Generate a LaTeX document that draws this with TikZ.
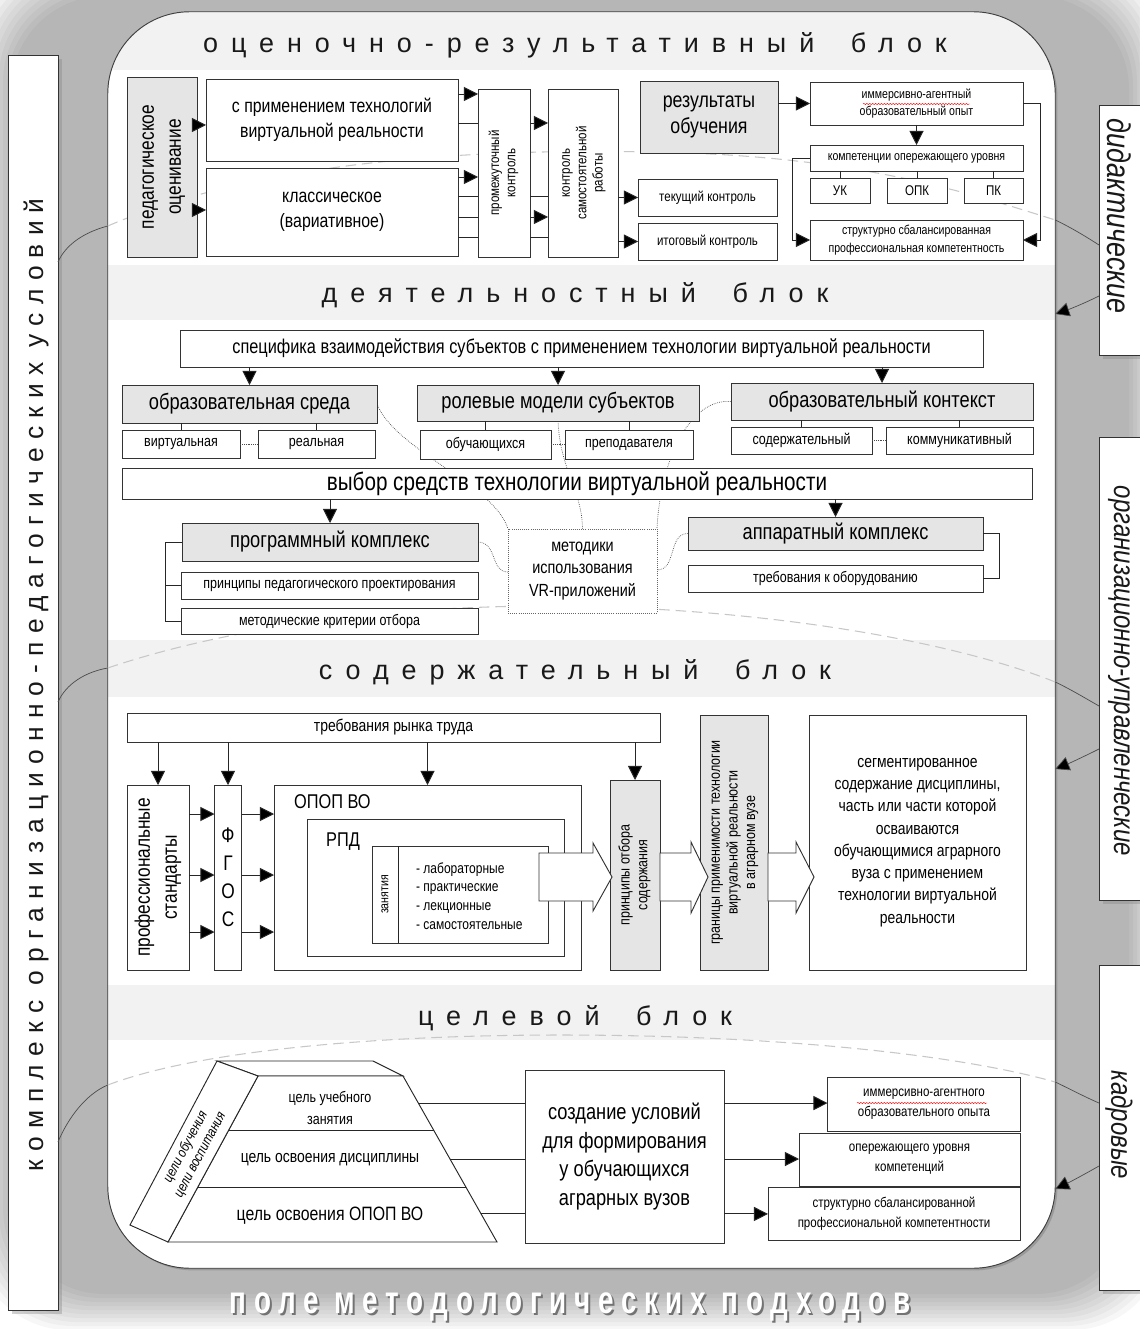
\documentclass[tikz,border=0pt]{standalone}
\usepackage{fontspec}
\setmainfont{Liberation Sans}[FakeStretch=0.82]
\newfontfamily\blockfont{Liberation Sans}[LetterSpace=48]
\newfontfamily\sidefont{Liberation Sans}[LetterSpace=31]
\newfontfamily\slantfont{Liberation Sans}[FakeStretch=0.82]
\newfontfamily\fieldfont{Liberation Sans}[FakeStretch=0.72,LetterSpace=20]
\usetikzlibrary{arrows.meta,shadows,calc,decorations.pathmorphing}
\pgfdeclarelayer{back}
\pgfdeclarelayer{links}
\pgfsetlayers{back,links,main}
\newcommand\vtxt[1]{\rotatebox{90}{\begin{tabular}{@{}c@{}}#1\end{tabular}}}

\begin{document}
\begin{tikzpicture}[x=0.03cm,y=-0.03cm,>={Triangle[length=12pt,width=12pt,fill=black]},
  wh/.style 2 args={minimum width=#1*0.03cm,minimum height=#2*0.03cm},
  fs/.style 2 args={font=\fontsize{#1}{#2}\selectfont,align=center},
  box/.style={draw=black!80,line width=0.8pt,fill=white,inner sep=0pt,outer sep=0pt,align=center},
  gbox/.style={box,fill=black!10},
  band/.style={fill=black!5},
  blocktitle/.style={font=\blockfont\fontsize{23}{26}\selectfont,text=black!90},
  wire/.style={draw=black!85,line width=0.8pt},
  dots/.style={draw=black!70,line width=0.6pt,densely dotted},
  bow/.style={draw=black!70,line width=0.6pt},
  bowdash/.style={draw=black!22,line width=0.9pt,dash pattern=on 9pt off 5pt},
  sidebox/.style={box,drop shadow={shadow xshift=3pt,shadow yshift=-3pt,opacity=0.35}},
  hollow/.style={draw=black!80,line width=0.8pt,fill=white},
  sidelbl/.style={rotate=-90,font=\slantfont\itshape\fontsize{25}{27}\selectfont,text=black!90},
]
\useasboundingbox (0,0) rectangle (1139,1329);

% background, panel and bands
\begin{pgfonlayer}{back}
\fill[white] (0,0) rectangle (1139,1329);
\foreach \i in {0,...,9}
  \fill[black,opacity=0.03,rounded corners=80pt] (-25+4*\i,-40+4*\i) rectangle (1165-4*\i,1330-4*\i);
\node[fill=white,wh={947}{1256},rounded corners=70pt,
  drop shadow={shadow xshift=2pt,shadow yshift=-2pt,opacity=0.5}] (panel) at (581.5,640) {};
\begin{scope}
  \clip[rounded corners=70pt] (panel.north west) rectangle (panel.south east);
  \fill[band] (108,12) rectangle (1055,70);
  \fill[band] (108,265) rectangle (1055,320);
  \fill[band] (108,640) rectangle (1055,697);
  \fill[band] (108,985) rectangle (1055,1040);
\end{scope}
\draw[black!75,line width=0.8pt,rounded corners=70pt] (panel.north west) rectangle (panel.south east);
\node[sidebox,wh={50}{1255}] (leftbox) at (33,682.5) {};
\node[sidebox,wh={52}{250}] (didact) at (1125,230) {};
\node[sidebox,wh={52}{463}] (orgman) at (1125,668.5) {};
\node[sidebox,wh={52}{325}] (staff) at (1125,1127.5) {};
\end{pgfonlayer}

\node[blocktitle] (t1) at (575,45) {оценочно-результативный \hspace{0.6em}блок};
\node[blocktitle] (t2) at (575,295) {деятельностный \hspace{0.6em}блок};
\node[blocktitle] (t3) at (575,672) {содержательный \hspace{0.6em}блок};
\node[blocktitle] (t4) at (575,1018) {целевой \hspace{0.6em}блок};

\node[rotate=90,font=\sidefont\fontsize{22.5}{24}\selectfont,text=black!90] (leftlbl) at (36,685) {комплекс организационно-педагогических условий};
\node[sidelbl,font=\slantfont\itshape\fontsize{28}{30}\selectfont] (didlbl) at (1119,216) {дидактические};
\node[sidelbl] (orglbl) at (1119,671) {организационно-управленческие};
\node[sidelbl] (stafflbl) at (1119,1125) {кадровые};

% evaluation block
\node[gbox,wh={70}{180},fs={18}{23}] (pedo) at (162,167) {\vtxt{педагогическое\\оценивание}};
\node[box,wh={252}{82},fs={16.5}{21}] (vrtech) at (332,120) {с применением технологий\\виртуальной реальности};
\node[box,wh={252}{88},fs={16.5}{21}] (classic) at (332,212) {классическое\\(вариативное)};
\node[box,wh={52}{168},fs={12}{14}] (interim) at (504,173) {\vtxt{промежуточный\\контроль}};
\node[box,wh={70}{168},fs={12}{14}] (selfctl) at (583,173) {\vtxt{контроль\\самостоятельной\\работы}};
\node[box,wh={139}{37},fs={12}{14}] (current) at (707.5,197.5) {текущий контроль};
\node[box,wh={139}{37},fs={12}{14}] (final) at (707.5,241.5) {итоговый контроль};
\node[gbox,wh={138}{72},fs={18.5}{22}] (results) at (709,117) {результаты\\обучения};
\node[box,wh={213}{43},fs={11}{14}] (immers) at (916.5,103.5) {иммерсивно-агентный\\образовательный опыт};
\node[box,wh={213}{26},fs={11}{13}] (compet) at (916.5,158) {компетенции опережающего уровня};
\node[box,wh={60}{25},fs={12}{14}] (uk) at (840,190.5) {УК};
\node[box,wh={60}{25},fs={12}{14}] (opk) at (917,190.5) {ОПК};
\node[box,wh={59}{25},fs={12}{14}] (pk) at (993.5,190.5) {ПК};
\node[box,wh={213}{40},fs={11}{15}] (balanced) at (916.5,240) {структурно сбалансированная\\профессиональная компетентность};

\draw[wire,->] (pedo.east |- 0,125) -- (vrtech.west |- 0,125);
\draw[wire,->] (pedo.east |- 0,210) -- (classic.west |- 0,210);
\draw[wire,->] (vrtech.east |- 0,94) -- (interim.west |- 0,94);
\draw[wire] (vrtech.east |- 0,123) -- (interim.west |- 0,123);
\draw[wire,->] (classic.east |- 0,177) -- (interim.west |- 0,177);
\foreach \y in {196,217,237}
  \draw[wire] (classic.east |- 0,\y) -- (interim.west |- 0,\y);
\draw[wire,->] (interim.east |- 0,123) -- (selfctl.west |- 0,123);
\draw[wire] (interim.east |- 0,196) -- (selfctl.west |- 0,196);
\draw[wire,->] (interim.east |- 0,217) -- (selfctl.west |- 0,217);
\draw[wire] (interim.east |- 0,237) -- (selfctl.west |- 0,237);
\draw[wire,->] (selfctl.east |- current.west) -- (current.west);
\draw[wire,->] (selfctl.east |- final.west) -- (final.west);
\draw[wire,->] (results.east |- immers.west) -- (immers.west);
\draw[wire,->] (immers.south) -- (compet.north);
\foreach \n in {uk,opk,pk}
  \draw[wire] (\n.north |- compet.south) -- (\n.north);
\draw[wire,->] (compet.west) -- ++(-18,0) |- (balanced.west);
\draw[wire,->] (immers.east) -- ++(17,0) |- (balanced.east);
\draw[red,line width=0.4pt,decorate,decoration={snake,amplitude=0.5pt,segment length=2.5pt}] (863,104) -- (970,104);

% activity block
\node[box,wh={803}{37},fs={17}{20}] (spec) at (581.5,348.5) {специфика взаимодействия субъектов с применением технологии виртуальной реальности};
\node[gbox,wh={255}{38},fs={19}{22}] (env) at (249.5,404) {образовательная среда};
\node[gbox,wh={282}{36},fs={19}{22}] (roles) at (558,403) {ролевые модели субъектов};
\node[gbox,wh={302}{37},fs={19}{22}] (ctx) at (882,401.5) {образовательный контекст};
\node[box,wh={118}{28},fs={13}{15}] (virt) at (181,444) {виртуальная};
\node[box,wh={117}{28},fs={13}{15}] (real) at (316.5,444) {реальная};
\node[box,wh={131}{29},fs={13}{15}] (learn) at (485.5,444.5) {обучающихся};
\node[box,wh={128}{29},fs={13}{15}] (teach) at (629,444.5) {преподавателя};
\node[box,wh={141}{27},fs={13}{15}] (subst) at (801.5,440.5) {содержательный};
\node[box,wh={147}{27},fs={13}{15}] (comm) at (959.5,440.5) {коммуникативный};
\node[box,wh={910}{31},fs={21.5}{24}] (choice) at (577,483.5) {выбор средств технологии виртуальной реальности};
\node[gbox,wh={296}{38},fs={19}{22}] (soft) at (330,542) {программный комплекс};
\node[box,wh={297}{27},fs={13}{15}] (princ) at (329.5,585.5) {принципы педагогического проектирования};
\node[box,wh={297}{26},fs={13}{15}] (crit) at (329.5,621) {методические критерии отбора};
\node[gbox,wh={295}{33},fs={19}{22}] (hard) at (835.5,533.5) {аппаратный комплекс};
\node[box,wh={295}{27},fs={13}{15}] (equip) at (835.5,578.5) {требования к оборудованию};
\node[box,draw=black!60,densely dotted,wh={149}{84},fs={15}{19}] (methods) at (582.5,571) {методики\\использования\\VR-приложений};

\foreach \n in {env,roles,ctx}
  \draw[wire,->] (\n.north |- spec.south) -- (\n.north);
\draw[wire] (virt.north |- env.south) -- (virt.north);
\draw[wire] (real.north |- env.south) -- (real.north);
\draw[wire] (learn.north |- roles.south) -- (learn.north);
\draw[wire] (teach.north |- roles.south) -- (teach.north);
\draw[wire] (subst.north |- ctx.south) -- (subst.north);
\draw[wire] (comm.north |- ctx.south) -- (comm.north);
\draw[dots] (virt.east) -- (real.west);
\draw[dots] (learn.east) -- (teach.west);
\draw[dots] (subst.east) -- (comm.west);
\draw[wire,->] (soft.north |- choice.south) -- (soft.north);
\draw[wire,->] (hard.north |- choice.south) -- (hard.north);
\draw[wire] (soft.west) -- ++(-17,0) |- (crit.west);
\draw[wire] (princ.west) -- ++(-16,0);
\draw[wire] (hard.east) -- ++(16,0) |- (equip.east);

% content block
\node[box,wh={533}{29},fs={14.5}{17}] (market) at (393.5,727.5) {требования рынка труда};
\node[box,wh={62}{185},fs={18}{23}] (prof) at (158,877.5) {\vtxt{профессиональные\\стандарты}};
\node[box,wh={27}{185},fs={18}{24}] (fgos) at (228,877.5) {Ф\\Г\\О\\С};
\node[box,wh={307}{185}] (opop) at (427.5,877.5) {};
\node[fs={17}{20},anchor=west] (opoplbl) at (290,802) {ОПОП ВО};
\node[box,wh={257}{137}] (rpd) at (435.5,887.5) {};
\node[fs={17}{20},anchor=west] (rpdlbl) at (322,842) {РПД};
\node[box,wh={176}{97}] (lessons) at (460,894.5) {};
\draw[wire] (lessons.north west) ++(26,0) -- ++(0,97);
\node[fs={11}{13}] (lessonslbl) at (385,894.5) {\rotatebox{90}{занятия}};
\node[fs={12.5}{16},align=left,anchor=west] (kinds) at (412,896) {- лабораторные\\- практические\\- лекционные\\- самостоятельные};
\node[gbox,wh={50}{190},fs={13}{15}] (select) at (635,875) {\vtxt{принципы отбора\\содержания}};
\node[gbox,wh={68}{255},fs={13}{15}] (bounds) at (734,842.5) {\vtxt{границы применимости технологии\\виртуальной реальности\\в аграрном вузе}};
\node[box,wh={217}{255},fs={14.5}{19}] (segment) at (917.5,842.5) {сегментированное\\содержание дисциплины,\\часть или части которой\\осваиваются\\обучающимися аграрного\\вуза с применением\\технологии виртуальной\\реальности};

\foreach \n in {prof,fgos,opop,select}
  \draw[wire,->] (\n.north |- market.south) -- (\n.north);
\foreach \y in {814,875,932} {
  \draw[wire,->] (prof.east |- 0,\y) -- (fgos.west |- 0,\y);
  \draw[wire,->] (fgos.east |- 0,\y) -- (opop.west |- 0,\y);
}
\draw[hollow] (539,853) -- (593,853) -- (593,843) -- (612,877) -- (593,911) -- (593,901) -- (539,901) -- cycle;
\draw[hollow] (select.east |- 0,853) -- (691,853) -- (691,842) -- (708,877) -- (691,913) -- (691,901) -- (select.east |- 0,901) -- cycle;
\draw[hollow] (bounds.east |- 0,853) -- (796,853) -- (796,842) -- (814,877) -- (796,913) -- (796,901) -- (bounds.east |- 0,901) -- cycle;

% target block
\coordinate (lidA) at (217,1061);
\coordinate (lidB) at (373,1061);
\coordinate (pyrA) at (258,1076);
\coordinate (pyrB) at (403,1076);
\coordinate (pyrC) at (497,1242);
\coordinate (pyrD) at (168,1242);
\coordinate (tiltD) at (130,1225);
\draw[wire,fill=white] (lidA) -- (lidB) -- (pyrB) -- (pyrA) -- cycle;
\draw[wire,fill=white] (pyrA) -- (pyrB) -- (pyrC) -- (pyrD) -- cycle;
\draw[wire,fill=white] (lidA) -- (pyrA) -- (pyrD) -- (tiltD) -- cycle;
\draw[wire] ($(pyrA)!0.331!(pyrD)$) -- ($(pyrB)!0.331!(pyrC)$);
\draw[wire] ($(pyrA)!0.669!(pyrD)$) -- ($(pyrB)!0.669!(pyrC)$);
\node[rotate=62,font=\slantfont\itshape\fontsize{12}{14}\selectfont,align=center,inner sep=0pt] (aims) at (193,1151) {цели обучения\\цели воспитания};
\node[fs={13}{18}] (goal1) at (330,1108) {цель учебного\\занятия};
\node[fs={14.5}{17}] (goal2) at (330,1160) {цель освоения дисциплины};
\node[fs={16.5}{19}] (goal3) at (330,1216) {цель освоения ОПОП ВО};

\node[box,wh={199}{173},fs={19}{24.5}] (create) at (624.5,1156.5) {создание условий\\для формирования\\у обучающихся\\аграрных вузов};
\node[box,wh={193}{54},fs={12}{17}] (exp) at (924,1104.5) {иммерсивно-агентного\\образовательного опыта};
\node[box,wh={221}{53},fs={12}{17}] (lev) at (909.5,1159.5) {опережающего уровня\\компетенций};
\node[box,wh={252}{53},fs={12}{17}] (prof2) at (894,1214) {структурно сбалансированной\\профессиональной компетентности};
\draw[red,line width=0.4pt,decorate,decoration={snake,amplitude=0.5pt,segment length=2.5pt}] (857,1103) -- (987,1103);

\coordinate (g1) at ($(pyrB)!0.163!(pyrC)$);
\coordinate (g2) at ($(pyrB)!0.5!(pyrC)$);
\coordinate (g3) at ($(pyrB)!0.831!(pyrC)$);
\draw[wire] (g1) -- (create.west |- g1);
\draw[wire] (g2) -- (create.west |- g2);
\draw[wire] (g3) -- (create.west |- g3);
\draw[wire,->] (create.east |- g1) -- (exp.west |- g1);
\draw[wire,->] (create.east |- g2) -- (lev.west |- g2);
\draw[wire,->] (create.east |- g3) -- (prof2.west |- g3);

% conditions arcs and dotted links
\begin{pgfonlayer}{links}
\draw[bow] (leftbox.east |- 0,262) .. controls (66,244) and (85,232) .. (panel.west |- 0,226);
\draw[bowdash] (panel.west |- 0,226) .. controls (250,165) and (450,148) .. (650,152) .. controls (850,155) and (960,190) .. (panel.east |- 0,220);
\draw[bow] (panel.east |- 0,220) .. controls (1070,227) and (1085,236) .. (didact.west |- 0,245);
\draw[bow,->] (didact.west |- 0,296) .. controls (1085,303) and (1070,309) .. (panel.east |- 0,314);

\draw[bow] (leftbox.east |- 0,702) .. controls (66,684) and (85,672) .. (panel.west |- 0,668);
\draw[bowdash] (panel.west |- 0,668) .. controls (220,630) and (380,605) .. (560,606) .. controls (760,608) and (950,640) .. (panel.east |- 0,682);
\draw[bow] (panel.east |- 0,682) .. controls (1070,689) and (1085,698) .. (orgman.west |- 0,706);
\draw[bow,->] (orgman.west |- 0,749) .. controls (1085,756) and (1070,763) .. (panel.east |- 0,769);

\draw[bow] (leftbox.east |- 0,1142) .. controls (68,1118) and (86,1094) .. (panel.west |- 0,1085);
\draw[bowdash] (panel.west |- 0,1085) .. controls (200,1050) and (380,1035) .. (560,1035) .. controls (780,1035) and (960,1055) .. (panel.east |- 0,1082);
\draw[bow] (panel.east |- 0,1082) .. controls (1070,1089) and (1085,1097) .. (staff.west |- 0,1103);
\draw[bow,->] (staff.west |- 0,1166) .. controls (1085,1174) and (1070,1182) .. (panel.east |- 0,1189);

\draw[dots] (env.east) .. controls (395,450) and (495,485) .. (methods.north west);
\draw[dots] (soft.east) .. controls (498,543) and (490,572) .. (methods.west |- 0,572);
\draw[dots] (roles.south) .. controls (560,470) and (582,490) .. (methods.north);
\draw[dots] (ctx.west) .. controls (690,398) and (660,460) .. (methods.north east);
\draw[dots] (hard.west) .. controls (668,533) and (677,570) .. (methods.east |- 0,570);
\end{pgfonlayer}

\node[font=\fieldfont\bfseries\fontsize{33}{35}\selectfont,text=black!55] (fieldsh) at (572,1309) {поле методологических подходов};
\node[font=\fieldfont\bfseries\fontsize{33}{35}\selectfont,text=white] (field) at (570,1307) {поле методологических подходов};
\end{tikzpicture}
\end{document}
